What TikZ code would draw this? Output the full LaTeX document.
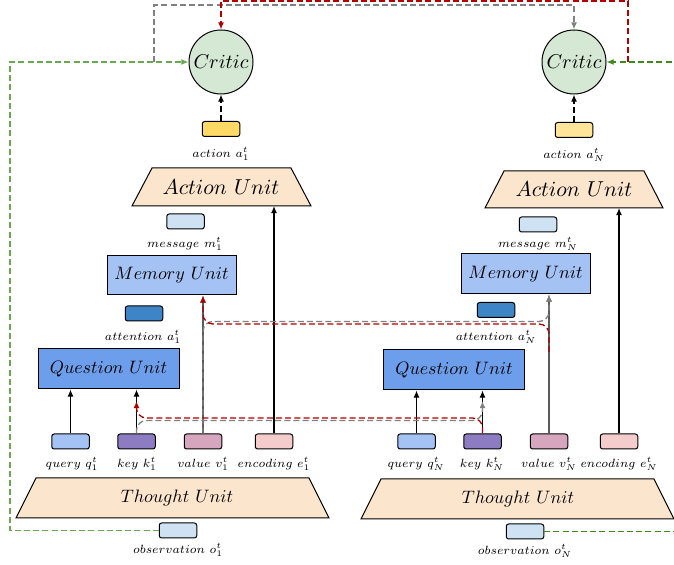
\documentclass[tikz,border=0pt]{standalone}
\usepackage{graphicx}
\usetikzlibrary{arrows.meta}
\definecolor{critG}{HTML}{D5E8D4}
\definecolor{yel1}{HTML}{FFD966}
\definecolor{yel2}{HTML}{FFE599}
\definecolor{peach}{HTML}{FCE5CD}
\definecolor{msgB}{HTML}{CFE2F3}
\definecolor{memB}{HTML}{A4C2F4}
\definecolor{attB}{HTML}{3D85C6}
\definecolor{queB}{HTML}{6D9EEB}
\definecolor{keyP}{HTML}{8E7CC3}
\definecolor{valP}{HTML}{D5A6BD}
\definecolor{encP}{HTML}{F4CCCC}
\definecolor{lgreen}{HTML}{6AA84F}
\definecolor{dgreen}{HTML}{3F8A1F}
\definecolor{dred}{HTML}{B00000}
\definecolor{lgrey}{HTML}{808080}
\definecolor{dgrey}{HTML}{5A5A5A}
\newcommand\lbtext[1]{\scalebox{0.85}{\scriptsize$#1$}}
\newcommand\untext[1]{\scalebox{0.9}{$#1$}}
\tikzset{
  box/.style={draw, line width=0.5pt, inner sep=0pt},
  tok/.style={box, rounded corners=1.2pt, minimum width=18.75pt, minimum height=7.5pt},
  bigbox/.style={box, minimum width=64.5pt, minimum height=19.5pt},
  qbox/.style={box, minimum width=70.5pt, minimum height=20pt},
  crit/.style={box, circle, fill=critG, minimum size=32pt},
  trap/.style={draw, line width=0.5pt, fill=peach},
  utext/.style={inner sep=0pt},
  lbl/.style={inner sep=0pt},
  arr/.style={-{Latex[length=3.6pt,width=3pt]}, line width=0.6pt},
  dsh/.style={dash pattern=on 3pt off 1.6pt, line width=0.65pt},
  cross/.style={dsh, rounded corners=5pt, -{Latex[length=3.6pt,width=3pt]}},
}
\begin{document}
\begin{tikzpicture}[x=0.5pt,y=-0.5pt]
\useasboundingbox (0,0) rectangle (674,565);
\clip (0,0) rectangle (674,565);

% ---------- Agent 1 ----------
\node[crit] (crit1) at (221,62) {$Critic$};
\node[tok, fill=yel1] (act1) at (221,129) {};
\node[lbl] (lact1) at (221,154) {\lbtext{action~a_1^t}};
\draw[trap] (152,168) -- (291,168) -- (311,206) -- (132,206) -- cycle;
\node[utext] (au1) at (221,187) {\scalebox{1.08}{$Action~Unit$}};
\coordinate (au1b) at (221,206);
\node[tok, fill=msgB] (msg1) at (185.5,221.5) {};
\node[lbl] (lmsg1) at (185,244) {\lbtext{message~m_1^t}};
\node[bigbox, fill=memB] (mem1) at (171.5,275.5) {\untext{Memory~Unit}};
\node[tok, fill=attB] (att1) at (144,313.5) {};
\node[lbl] (latt1) at (143,337) {\lbtext{attention~a_1^t}};
\node[qbox, fill=queB] (que1) at (108.5,369) {\untext{Question~Unit}};
\node[tok, fill=memB] (q1) at (70.5,441.5) {};
\node[tok, fill=keyP] (k1) at (136.5,441.5) {};
\node[tok, fill=valP] (v1) at (203,441.5) {};
\node[tok, fill=encP] (e1) at (274,441.5) {};
\node[lbl] (lq1) at (72,464) {\lbtext{query~q_1^t}};
\node[lbl] (lk1) at (137,464) {\lbtext{key~k_1^t}};
\node[lbl] (lv1) at (203,464) {\lbtext{value~v_1^t}};
\node[lbl] (le1) at (274,464) {\lbtext{encoding~e_1^t}};
\draw[trap] (36,478) -- (309,478) -- (329,518) -- (16,518) -- cycle;
\node[utext] (tu1) at (177,498) {\untext{Thought~Unit}};
\node[tok, fill=msgB] (obs1) at (178,530.5) {};
\node[lbl] (lobs1) at (178,550) {\lbtext{observation~o_1^t}};

% ---------- Agent N ----------
\node[crit] (critN) at (574,62) {$Critic$};
\node[tok, fill=yel2] (actN) at (574,130) {};
\node[lbl] (lactN) at (574,155) {\lbtext{action~a_N^t}};
\draw[trap] (504,171) -- (644,171) -- (663,208) -- (485,208) -- cycle;
\node[utext] (auN) at (574,189) {\scalebox{1.08}{$Action~Unit$}};
\coordinate (auNb) at (574,208);
\node[tok, fill=msgB] (msgN) at (538,224.5) {};
\node[lbl] (lmsgN) at (538,244) {\lbtext{message~m_N^t}};
\node[bigbox, fill=memB, minimum height=20pt] (memN) at (525.5,274) {\untext{Memory~Unit}};
\node[tok, fill=attB] (attN) at (496,310) {};
\node[lbl] (lattN) at (496,337) {\lbtext{attention~a_N^t}};
\node[qbox, fill=queB] (queN) at (454,370) {\untext{Question~Unit}};
\node[tok, fill=memB] (qN) at (416.5,441.5) {};
\node[tok, fill=keyP] (kN) at (482.5,441.5) {};
\node[tok, fill=valP] (vN) at (549,441.5) {};
\node[tok, fill=encP] (eN) at (619,441.5) {};
\node[lbl] (lqN) at (416,464) {\lbtext{query~q_N^t}};
\node[lbl] (lkN) at (482,464) {\lbtext{key~k_N^t}};
\node[lbl] (lvN) at (549,464) {\lbtext{value~v_N^t}};
\node[lbl] (leN) at (619,464) {\lbtext{encoding~e_N^t}};
\draw[trap] (381,479) -- (654,479) -- (674,519) -- (361,519) -- cycle;
\node[utext] (tuN) at (518,499) {\untext{Thought~Unit}};
\node[tok, fill=msgB] (obsN) at (525,531.5) {};
\node[lbl] (lobsN) at (525,551) {\lbtext{observation~o_N^t}};

% ---------- vertical arrows ----------
\draw[arr, dsh] (act1) -- (crit1);
\draw[arr, dsh] (actN) -- (critN);
\draw[arr] (e1.north) -- (e1.north |- au1b);
\draw[arr] (eN.north) -- (eN.north |- auNb);
\draw[arr] (q1.north) -- (q1.north |- que1.south);
\draw[arr] (k1.north) -- (k1.north |- que1.south);
\draw[arr] (qN.north) -- (qN.north |- queN.south);
\draw[arr] (kN.north) -- (kN.north |- queN.south);
\draw[arr, dgrey] (v1.north) -- (v1.north |- mem1.south);
\draw[arr, dgrey] (vN.north) -- (vN.north |- memN.south);

% ---------- cross-agent links ----------
\coordinate (k1top) at (136.5,401);
\coordinate (kNtop) at (482.5,401);
\coordinate (vNsrc) at (549,352);
\draw[cross, lgrey] (k1.north) -- (136.5,420.5) -- (482.5,420.5) -- (kNtop);
\draw[cross, lgrey] (v1.north) -- (203,321.5) -- (549,321.5) -- (vN.north |- memN.south);
\draw[cross, dred] (kN.north) -- (482.5,418) -- (136.5,418) -- (k1top);
\draw[cross, dred] (vNsrc) -- (549,324) -- (203,324) -- (v1.north |- mem1.south);

% ---------- top links ----------
\coordinate (gj) at (154,62);
\coordinate (rj) at (628,62);
\draw[cross, rounded corners=0pt, lgreen] (obs1.west) -- (10,530.5) -- (10,62) -- (crit1.west);
\draw[cross, rounded corners=0pt, lgrey] (gj) -- (154,5) -- (574,5) -- (critN.north);
\draw[cross, rounded corners=0pt, dred] (rj) -- (628,1) -- (221,1) -- (crit1.north);
\draw[cross, rounded corners=0pt, dgreen] (690,62) -- (critN.east);
\draw[dsh, line width=0.7pt, dgreen] (obsN.east) -- (690,531.5);
\end{tikzpicture}
\end{document}
